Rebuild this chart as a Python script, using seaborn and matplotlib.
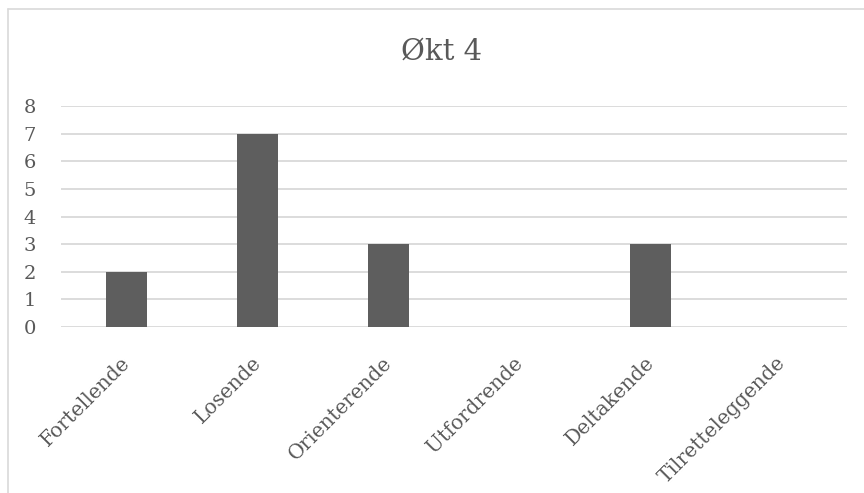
import pandas as pd
import seaborn as sns
import matplotlib.pyplot as plt
from matplotlib.lines import Line2D
from matplotlib.transforms import ScaledTranslation

# data
categories = ["Fortellende", "Losende", "Orienterende", "Utfordrende", "Deltakende", "Tilretteleggende"]
counts = [2, 7, 3, 0, 3, 0]
y_ticks = [0, 1, 2, 3, 4, 5, 6, 7, 8]
title = "Økt 4"

df = pd.DataFrame({"category": categories, "count": counts})

sns.set_style("white")
plt.rcParams["font.family"] = ["DejaVu Serif", "DejaVu Sans"]

text_color = "#595959"
grid_color = "#d9d9d9"
bar_color = "#5e5e5e"

fig = plt.figure(figsize=(8.64, 4.93), dpi=100)
ax = fig.add_axes([61 / 864, 1 - 327 / 493, (847 - 61) / 864, (327 - 106) / 493])

sns.barplot(data=df, x="category", y="count", color=bar_color, width=0.31,
            saturation=1, ax=ax, zorder=3, edgecolor=bar_color, linewidth=0)

ax.set_ylim(0, 8)
ax.set_xlim(-0.5, len(categories) - 0.5)
ax.set_yticks(y_ticks)
ax.set_yticklabels([str(v) for v in y_ticks])
ax.yaxis.grid(True, color=grid_color, linewidth=1.3, zorder=0)
ax.set_axisbelow(True)
for side in ["top", "right", "left", "bottom"]:
    ax.spines[side].set_visible(False)
ax.set_xlabel("")
ax.set_ylabel("")

ax.tick_params(axis="y", length=0, pad=27, labelsize=14, labelcolor=text_color)
ax.tick_params(axis="x", length=0, pad=19, labelsize=14.5, labelcolor=text_color)
for lbl in ax.get_yticklabels():
    lbl.set_horizontalalignment("left")
shift = ScaledTranslation(-6 / 100, 0, fig.dpi_scale_trans)
for lbl in ax.get_xticklabels():
    lbl.set_rotation(45)
    lbl.set_ha("right")
    lbl.set_rotation_mode("anchor")
    lbl.set_transform(lbl.get_transform() + shift)

fig.text(442 / 864, 1 - 52 / 493, title, ha="center", va="center",
         fontsize=21, color=text_color)

# chart area border (top and left edges visible in the reference)
fig.add_artist(Line2D([8 / 864, 8 / 864], [0, 1 - 9 / 493], transform=fig.transFigure,
                      color=grid_color, linewidth=1.2))
fig.add_artist(Line2D([8 / 864, 1], [1 - 9 / 493, 1 - 9 / 493], transform=fig.transFigure,
                      color=grid_color, linewidth=1.2))

fig.savefig("out.png", dpi=100)
